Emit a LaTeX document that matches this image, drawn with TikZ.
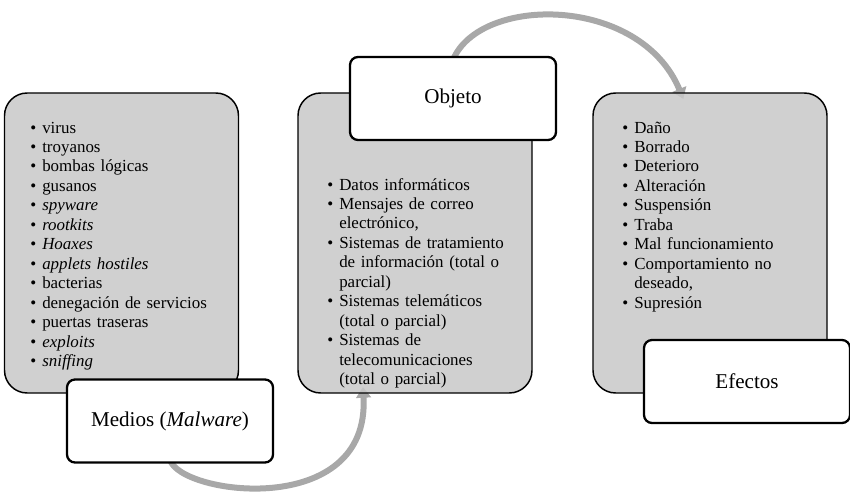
\documentclass[tikz,border=0pt]{standalone}
\usepackage{fontspec}
\setmainfont{Liberation Serif}
\usetikzlibrary{arrows.meta}
\pgfdeclarelayer{fondo}
\pgfsetlayers{fondo,main}
\definecolor{cajagris}{RGB}{200,200,200}
\definecolor{flechagris}{RGB}{168,168,168}
\newcommand{\vi}{\makebox[9pt][l]{\textbullet}}
\newcommand{\sg}{\hspace*{9pt}}

\begin{document}
\begin{tikzpicture}[x=0.75pt,y=-0.75pt,
    caja/.style={draw=black,line width=1.1pt,fill=cajagris,fill opacity=0.85,text opacity=1,
      rounded corners=17pt,minimum width=175.5pt,minimum height=225pt,inner sep=0pt},
    titulo/.style={draw=black,line width=1.7pt,fill=white,rounded corners=6pt,
      minimum width=154.5pt,minimum height=62.25pt,inner sep=0pt,font=\fontsize{15.8}{18}\selectfont},
    lista/.style={anchor=base west,text width=150pt,align=left,inner sep=0pt,
      font=\fontsize{12.7}{14.6}\selectfont},
    flecha/.style={draw=flechagris,line width=4.5pt,-{Triangle[width=11pt,length=8pt]}}]

    \useasboundingbox (0,0) rectangle (850,492);

    \node[caja] (cajamed) at (121.5, 243) {};
    \node[caja] (cajaobj) at (415, 243) {};
    \node[caja] (cajaefe) at (710, 243) {};

    \node[lista] (lmed) at (30, 133) {\vi virus\\ \vi troyanos\\ \vi bombas lógicas\\ \vi gusanos\\
      \vi \textit{spyware}\\ \vi \textit{rootkits}\\ \vi \textit{Hoaxes}\\ \vi \textit{applets hostiles}\\
      \vi bacterias\\ \vi denegación de servicios\\ \vi puertas traseras\\ \vi \textit{exploits}\\
      \vi \textit{sniffing}};
    \node[lista] (lobj) at (327, 190) {\vi Datos informáticos\\ \vi Mensajes de correo\\ \sg electrónico,\\
      \vi Sistemas de tratamiento\\ \sg de información (total o\\ \sg parcial)\\
      \vi Sistemas telemáticos\\ \sg (total o parcial)\\ \vi Sistemas de\\ \sg telecomunicaciones\\
      \sg (total o parcial)};
    \node[lista] (lefe) at (622, 133) {\vi Daño\\ \vi Borrado\\ \vi Deterioro\\ \vi Alteración\\
      \vi Suspensión\\ \vi Traba\\ \vi Mal funcionamiento\\ \vi Comportamiento no\\ \sg deseado,\\
      \vi Supresión};

    \node[titulo] (medios) at (170, 421) {Medios (\textit{Malware})};
    \node[titulo] (objeto) at (453, 98.5) {Objeto};
    \node[titulo] (efectos) at (747, 381.5) {Efectos};

    \begin{pgfonlayer}{fondo}
    \draw[flecha] ([yshift=-3pt]objeto.north) .. controls (480,-5) and (640,-5) .. ([xshift=-20pt,yshift=-5pt]cajaefe.north);
    \draw[flecha] ([yshift=3pt]medios.south) .. controls (180,495) and (370,520) .. ([xshift=-39pt,yshift=5pt]cajaobj.south);
    \end{pgfonlayer}

  \end{tikzpicture}
\end{document}
